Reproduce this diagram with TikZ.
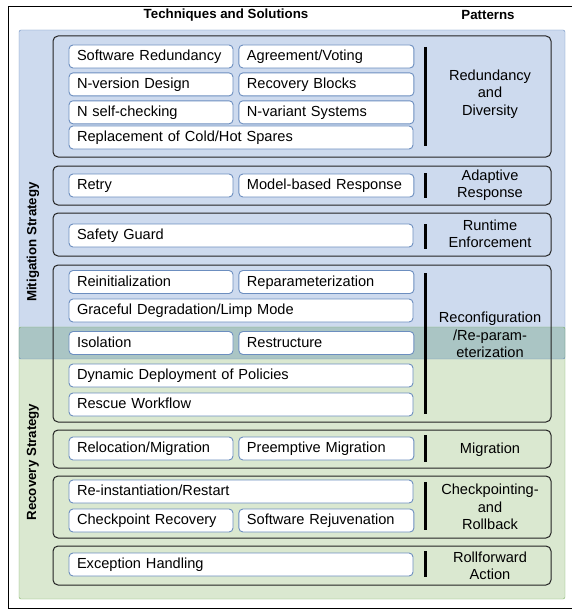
\documentclass[tikz,border=0pt]{standalone}
\usepackage{fontspec}
\setmainfont{Liberation Sans}
\usetikzlibrary{positioning}

\definecolor{mitfill}{RGB}{205,218,238}
\definecolor{mitline}{RGB}{108,142,191}
\definecolor{recfill}{RGB}{218,232,208}
\definecolor{recline}{RGB}{130,179,102}
\definecolor{bothfill}{RGB}{170,197,196}
\definecolor{grpline}{RGB}{35,35,35}

\tikzset{
  item/.style={draw=mitline, fill=white, rounded corners=4pt, line width=0.9pt,
    minimum height=23pt, inner ysep=0pt, inner xsep=8pt, align=left,
    text height=11pt, text depth=3pt,
    font=\fontsize{14.6}{17}\selectfont},
  itemL/.style={item, text width=148pt},
  itemR/.style={item, text width=159pt},
  itemW/.style={item, text width=328pt},
  grp/.style={draw=grpline, rounded corners=5pt, line width=1pt},
  pattern/.style={align=center, font=\fontsize{14.6}{17.5}\selectfont},
  bar/.style={line width=3pt},
  strat/.style={rotate=90, font=\bfseries\fontsize{13.3}{15}\selectfont},
  head/.style={font=\bfseries\fontsize{13.3}{15}\selectfont}
}

\begin{document}
\begin{tikzpicture}[x=1pt, y=-1pt]
  \useasboundingbox (0,0) rectangle (571,610);
  \draw[line width=1pt] (8,7) rectangle (580,608);

  % strategy areas
  \fill[mitfill, rounded corners=2pt] (19,30) rectangle (565,359);
  \fill[recfill, rounded corners=2pt] (19,327) rectangle (565,599);
  \fill[bothfill] (19,327) rectangle (565,359);
  \draw[mitline, rounded corners=2pt] (19,30) rectangle (565,359);
  \draw[recline, rounded corners=2pt] (19,327) rectangle (565,599);

  \node[head] (techhead) at (226,15) {Techniques and Solutions};
  \node[head] (pathead) at (488,15) {Patterns};
  \node[strat] (mitlabel) at (33,242) {Mitigation Strategy};
  \node[strat] (reclabel) at (33,462) {Recovery Strategy};

  % pattern groups
  \draw[grp] (53,36) rectangle (551,157);
  \draw[grp] (53,166) rectangle (551,205);
  \draw[grp] (53,213) rectangle (551,256);
  \draw[grp] (53,265) rectangle (551,422);
  \draw[grp] (53,430) rectangle (551,468);
  \draw[grp] (53,476) rectangle (551,538);
  \draw[grp] (53,546) rectangle (551,585);

  % redundancy and diversity
  \node[itemL] (swred) at (151,56.5) {Software Redundancy};
  \node[itemR, right=5pt of swred] (agree) {Agreement/Voting};
  \node[itemL, below=4pt of swred] (nver) {N-version Design};
  \node[itemR, right=5pt of nver] (recblk) {Recovery Blocks};
  \node[itemL, below=4pt of nver] (nself) {N self-checking};
  \node[itemR, right=5pt of nself] (nvar) {N-variant Systems};
  \node[itemW] (spares) at (241,137.5) {Replacement of Cold/Hot Spares};
  \draw[bar] (425,47) -- (425,146);
  \node[pattern] (redpat) at (490,94) {Redundancy\\and\\Diversity};

  % adaptive response
  \node[itemL] (retry) at (151,185.5) {Retry};
  \node[itemR, right=5pt of retry] (modelresp) {Model-based Response};
  \draw[bar] (425,173) -- (425,198);
  \node[pattern] (adapat) at (490,185) {Adaptive\\Response};

  % runtime enforcement
  \node[itemW] (guard) at (241,235.5) {Safety Guard};
  \draw[bar] (425,224) -- (425,249);
  \node[pattern] (runpat) at (490,234) {Runtime\\Enforcement};

  % reconfiguration
  \node[itemL] (reinit) at (151,282) {Reinitialization};
  \node[itemR, right=5pt of reinit] (reparam) {Reparameterization};
  \node[itemW] (degrade) at (241,310.5) {Graceful Degradation/Limp Mode};
  \node[itemL] (isol) at (151,343) {Isolation};
  \node[itemR, right=5pt of isol] (restr) {Restructure};
  \node[itemW] (deploy) at (241,375.5) {Dynamic Deployment of Policies};
  \node[itemW] (rescue) at (241,404.5) {Rescue Workflow};
  \draw[bar] (425,273) -- (425,414);
  \node[pattern] (recpat) at (490,335) {Reconfiguration\\/Re-param-\\eterization};

  % migration
  \node[itemL] (reloc) at (151,448.5) {Relocation/Migration};
  \node[itemR, right=5pt of reloc] (preempt) {Preemptive Migration};
  \draw[bar] (425,435) -- (425,462);
  \node[pattern] (migpat) at (490,450) {Migration};

  % checkpointing
  \node[itemW] (reinst) at (241,491.5) {Re-instantiation/Restart};
  \node[itemL] (ckpt) at (151,520.5) {Checkpoint Recovery};
  \node[itemR, right=5pt of ckpt] (rejuv) {Software Rejuvenation};
  \draw[bar] (425,482) -- (425,530);
  \node[pattern] (ckpat) at (490,507) {Checkpointing-\\and\\Rollback};

  % rollforward
  \node[itemW] (except) at (241,564.5) {Exception Handling};
  \draw[bar] (425,551) -- (425,577);
  \node[pattern] (rfpat) at (490,566) {Rollforward\\Action};
\end{tikzpicture}
\end{document}
